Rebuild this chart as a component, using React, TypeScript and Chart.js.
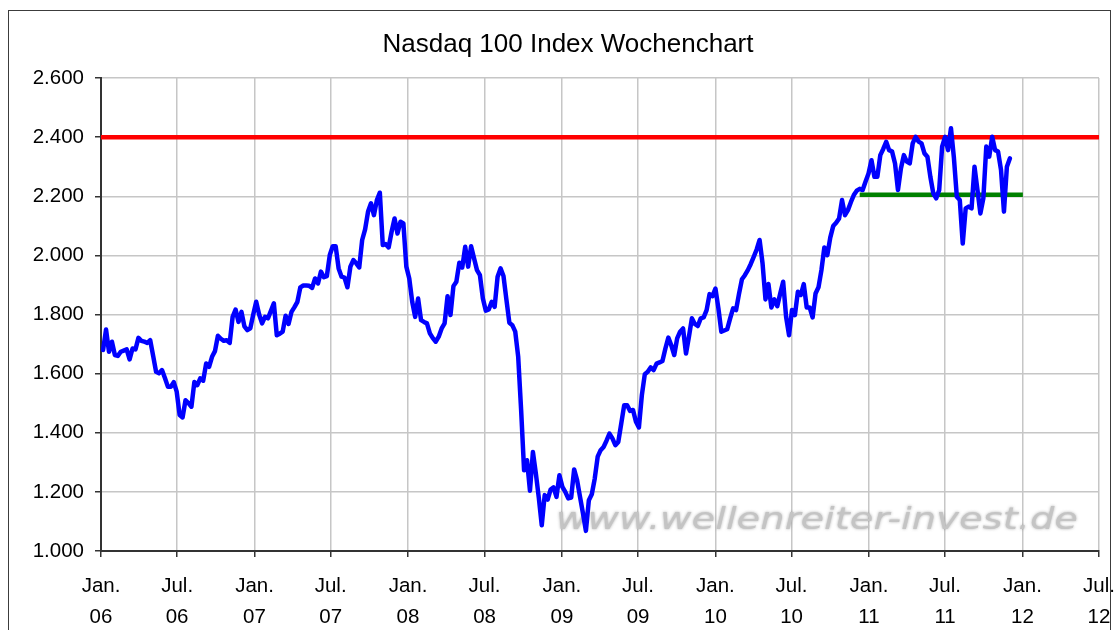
import React, { useEffect, useRef } from "react";
import { Chart, registerables } from "chart.js";

Chart.register(...registerables);

// ---------- data ----------
const chartTitle = "Nasdaq 100 Index Wochenchart";
const watermarkText = "www.wellenreiter-invest.de";

// first weekly close and the weekly closing values
const firstWeek = "2006-01-06";
const weeklyClose = [
  1680, 1749, 1674, 1708, 1663, 1660, 1674, 1678, 1682, 1648,
  1685, 1682, 1721, 1711, 1708, 1704, 1713, 1660, 1606, 1601,
  1612, 1585, 1556, 1556, 1571, 1539, 1460, 1452, 1510, 1500,
  1488, 1572, 1561, 1584, 1576, 1634, 1623, 1657, 1676, 1728,
  1718, 1711, 1713, 1704, 1792, 1817, 1775, 1809, 1760, 1747,
  1753, 1800, 1843, 1800, 1770, 1792, 1787, 1812, 1838, 1730,
  1735, 1742, 1796, 1768, 1809, 1825, 1843, 1892, 1898, 1898,
  1897, 1890, 1922, 1905, 1945, 1926, 1930, 2001, 2031, 2031,
  1956, 1928, 1925, 1892, 1962, 1984, 1973, 1959, 2052, 2088,
  2148, 2176, 2136, 2187, 2212, 2035, 2038, 2027, 2080, 2125,
  2074, 2114, 2108, 1962, 1922, 1843, 1792, 1854, 1781, 1775,
  1770, 1736, 1720, 1708, 1725, 1753, 1770, 1862, 1798, 1896,
  1911, 1975, 1959, 2029, 1962, 2031, 1990, 1950, 1933, 1854,
  1813, 1817, 1843, 1826, 1928, 1956, 1930, 1850, 1772, 1764,
  1742, 1657, 1476, 1273, 1307, 1204, 1335, 1262, 1180, 1087,
  1189, 1174, 1208, 1215, 1183, 1256, 1217, 1200, 1178, 1181,
  1276, 1240, 1183, 1127, 1068, 1172, 1192, 1245, 1319, 1341,
  1352, 1373, 1397, 1381, 1358, 1369, 1431, 1493, 1493, 1474,
  1477, 1437, 1418, 1527, 1598, 1606, 1621, 1612, 1634, 1638,
  1643, 1685, 1722, 1696, 1663, 1719, 1742, 1753, 1668, 1725,
  1787, 1768, 1761, 1787, 1790, 1815, 1869, 1862, 1888, 1821,
  1742, 1746, 1750, 1787, 1821, 1815, 1870, 1919, 1933, 1950,
  1971, 1995, 2020, 2052, 1973, 1851, 1903, 1824, 1851, 1828,
  1871, 1911, 1792, 1730, 1815, 1798, 1877, 1866, 1903, 1824,
  1824, 1790, 1871, 1892, 1950, 2027, 2001, 2060, 2099, 2110,
  2125, 2187, 2136, 2153, 2180, 2204, 2219, 2225, 2221, 2250,
  2277, 2322, 2266, 2266, 2339, 2360, 2384, 2356, 2351, 2311,
  2221, 2294, 2339, 2317, 2311, 2379, 2401, 2385, 2379, 2345,
  2334, 2266, 2210, 2193, 2221, 2368, 2401, 2356, 2430, 2330,
  2198, 2187, 2040, 2159, 2165, 2159, 2300, 2221, 2142, 2193,
  2368, 2334, 2401, 2356, 2351, 2289, 2148, 2300, 2328,
];

// horizontal marker lines
const resistanceLevel = 2400;
const supportLevel = 2205;
const supportFrom = "2010-12-10";
const supportTo = "2012-01-02";

// x axis
const axisStart = "2006-01-01";
const axisEnd = "2012-07-01";
const tickDates = [
  "2006-01-01", "2006-07-01", "2007-01-01", "2007-07-01", "2008-01-01",
  "2008-07-01", "2009-01-01", "2009-07-01", "2010-01-01", "2010-07-01",
  "2011-01-01", "2011-07-01", "2012-01-01", "2012-07-01",
];
const tickMonths = [
  "Jan.", "Jul.", "Jan.", "Jul.", "Jan.", "Jul.", "Jan.",
  "Jul.", "Jan.", "Jul.", "Jan.", "Jul.", "Jan.", "Jul.",
];
const tickYears = [
  "06", "06", "07", "07", "08", "08", "09",
  "09", "10", "10", "11", "11", "12", "12",
];

// y axis
const yMin = 1000;
const yMax = 2600;
const yStep = 200;

// ---------- helpers ----------
const DAY_MS = 86400000;
const dayNo = (s: string) =>
  (Date.parse(s + "T00:00:00Z") - Date.parse(axisStart + "T00:00:00Z")) / DAY_MS;
const formatDE = (v: number) =>
  String(Math.round(v)).replace(/\B(?=(\d{3})+(?!\d))/g, ".");

const FONT = '"Liberation Sans", Arial, sans-serif';
const TICK_FONT = { family: FONT, size: 20.5, lineHeight: 1.5 };

export default function App() {
  const ref = useRef<HTMLCanvasElement>(null);

  useEffect(() => {
    const canvas = ref.current;
    if (!canvas) return;

    const start = dayNo(firstWeek);
    const indexPoints = weeklyClose.map((v, i) => ({ x: start + 7 * i, y: v }));
    const xMin = dayNo(axisStart);
    const xMax = dayNo(axisEnd);

    const framePlugin = {
      id: "frameAndTitle",
      beforeDraw(chart: any) {
        const ctx = chart.ctx as CanvasRenderingContext2D;
        ctx.save();
        ctx.fillStyle = "#ffffff";
        ctx.fillRect(0, 0, chart.width, chart.height);
        ctx.strokeStyle = "#3c3c3c";
        ctx.lineWidth = 1;
        ctx.strokeRect(8.5, 10.5, 1102, 700);
        ctx.fillStyle = "#000000";
        ctx.font = `26px ${FONT}`;
        ctx.textAlign = "center";
        ctx.textBaseline = "alphabetic";
        ctx.fillText(chartTitle, 568, 52);
        ctx.restore();
      },
    };

    const watermarkPlugin = {
      id: "watermark",
      beforeDatasetsDraw(chart: any) {
        const ctx = chart.ctx as CanvasRenderingContext2D;
        const area = chart.chartArea;
        ctx.save();
        ctx.font = `italic 31px "DejaVu Sans"`;
        const w = ctx.measureText(watermarkText).width;
        const left = area.left + 455;
        const right = area.right - 21;
        ctx.translate(left, area.bottom - 22);
        ctx.scale((right - left) / w, 1);
        ctx.textAlign = "left";
        ctx.textBaseline = "alphabetic";
        ctx.shadowColor = "rgba(110,110,110,0.55)";
        ctx.shadowBlur = 3;
        ctx.fillStyle = "#c4c4c4";
        ctx.fillText(watermarkText, 0, 0);
        ctx.restore();
      },
    };

    const chart = new Chart(canvas, {
      type: "line",
      data: {
        datasets: [
          {
            data: indexPoints,
            borderColor: "#0000ff",
            borderWidth: 4.5,
            pointRadius: 0,
            tension: 0,
            borderJoinStyle: "round",
            borderCapStyle: "round",
            order: 0,
          },
          {
            data: [
              { x: dayNo(supportFrom), y: supportLevel },
              { x: dayNo(supportTo), y: supportLevel },
            ],
            borderColor: "#008000",
            borderWidth: 4.5,
            pointRadius: 0,
            order: 1,
          },
          {
            data: [
              { x: xMin, y: resistanceLevel },
              { x: xMax, y: resistanceLevel },
            ],
            borderColor: "#ff0000",
            borderWidth: 4.5,
            pointRadius: 0,
            order: 2,
          },
        ],
      },
      options: {
        animation: false,
        responsive: false,
        devicePixelRatio: 1,
        events: [],
        layout: { padding: { left: 0, top: 78, right: 18, bottom: 0 } },
        plugins: {
          legend: { display: false },
          tooltip: { enabled: false },
          title: { display: false },
        },
        scales: {
          x: {
            type: "linear",
            min: xMin,
            max: xMax,
            afterBuildTicks: (scale: any) => {
              scale.ticks = tickDates.map((d) => ({ value: dayNo(d) }));
            },
            afterFit: (scale: any) => {
              scale.height = 79;
              scale.paddingLeft = 0;
              scale.paddingRight = 0;
            },
            ticks: {
              autoSkip: false,
              maxRotation: 0,
              minRotation: 0,
              padding: 14,
              color: "#000000",
              font: TICK_FONT,
              callback: (_v: any, i: number) => [tickMonths[i], tickYears[i]],
            },
            grid: {
              color: "#c6c6c6",
              lineWidth: 1.5,
              tickColor: "#333333",
              tickLength: 6,
              tickWidth: 1.5,
            },
            border: { display: true, color: "#333333", width: 2 },
          },
          y: {
            type: "linear",
            min: yMin,
            max: yMax,
            afterFit: (scale: any) => {
              scale.width = 101;
            },
            ticks: {
              stepSize: yStep,
              padding: 11,
              color: "#000000",
              font: TICK_FONT,
              callback: (v: any) => formatDE(Number(v)),
            },
            grid: {
              color: "#c6c6c6",
              lineWidth: 1.5,
              tickColor: "#333333",
              tickLength: 6,
              tickWidth: 1.5,
            },
            border: { display: true, color: "#333333", width: 2 },
          },
        },
      },
      plugins: [framePlugin, watermarkPlugin],
    } as any);

    return () => chart.destroy();
  }, []);

  return (
    <div style={{ position: "absolute", left: 0, top: 0, width: 1117, height: 630 }}>
      <canvas ref={ref} width={1117} height={630} style={{ display: "block" }} />
    </div>
  );
}
